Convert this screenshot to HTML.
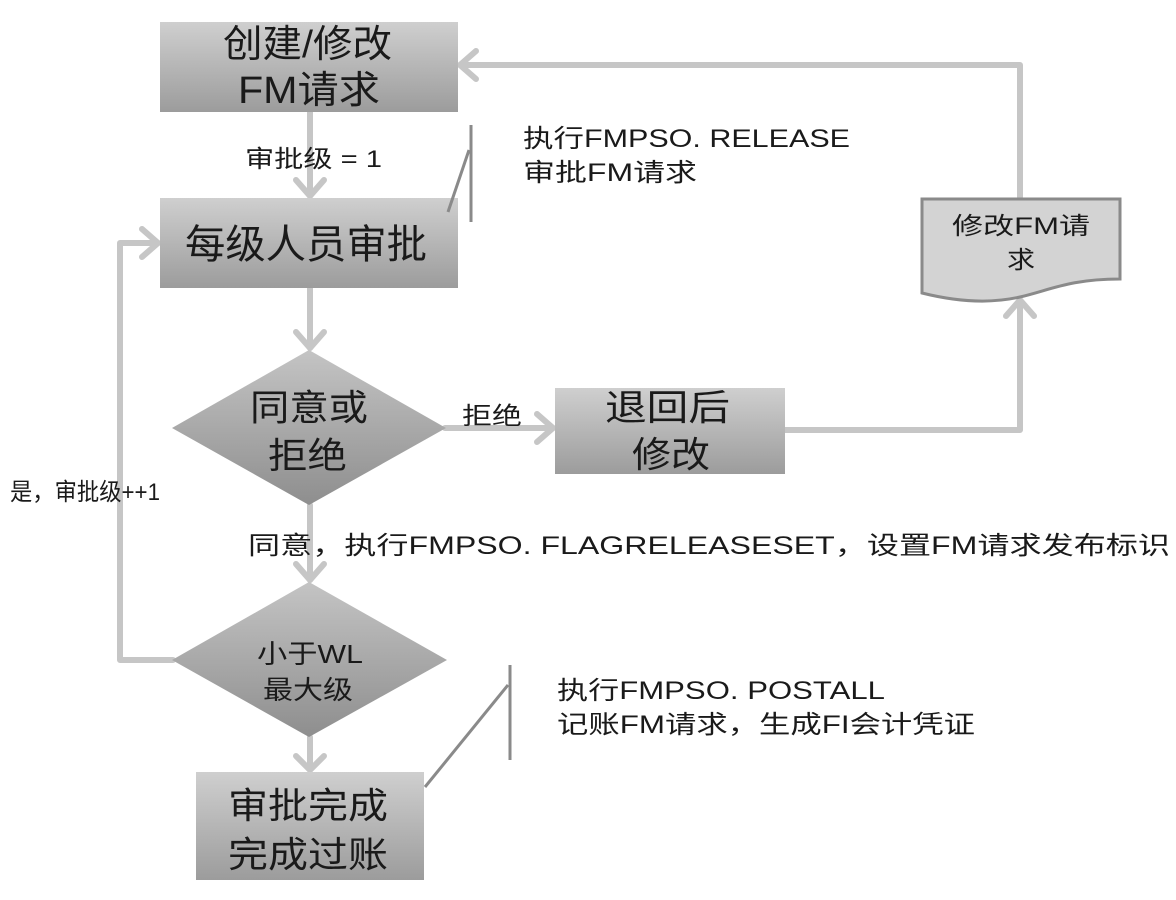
<!DOCTYPE html>
<html><head><meta charset="utf-8"><style>
html,body{margin:0;padding:0;background:#fff;}
svg{display:block;}
text{font-family:"Liberation Sans","Noto Sans CJK SC",sans-serif;fill:#1a1a1a;}
</style></head><body>
<svg width="1176" height="900" viewBox="0 0 1176 900" xmlns="http://www.w3.org/2000/svg">
<defs>
<linearGradient id="g" x1="0" y1="0" x2="0" y2="1">
<stop offset="0" stop-color="#cfcfcf"/><stop offset="1" stop-color="#9c9c9c"/>
</linearGradient>
<linearGradient id="gd" x1="0" y1="0" x2="0" y2="1">
<stop offset="0" stop-color="#c4c4c4"/><stop offset="1" stop-color="#8e8e8e"/>
</linearGradient>
</defs>
<g stroke="#c6c6c6" stroke-width="6" fill="none" stroke-linejoin="round" stroke-linecap="round">
<line x1="310" y1="112" x2="310" y2="196"/>
<polyline points="296,180 310,196 324,180"/>
<line x1="310" y1="288" x2="310" y2="348"/>
<polyline points="296,332 310,348 324,332"/>
<line x1="445" y1="428" x2="553" y2="428"/>
<polyline points="537,414 553,428 537,442"/>
<polyline points="785,430 1020,430 1020,300"/>
<polyline points="1006,316 1020,300 1034,316"/>
<polyline points="1020,197 1020,65 460,65"/>
<polyline points="476,51 460,65 476,79"/>
<line x1="310" y1="505" x2="310" y2="580"/>
<polyline points="296,564 310,580 324,564"/>
<polyline points="173,660 120,660 120,243 158,243"/>
<polyline points="142,229 158,243 142,257"/>
<line x1="310" y1="737" x2="310" y2="770"/>
<polyline points="296,756 310,770 324,756"/>
</g>
<rect x="160" y="22" width="298" height="90" fill="url(#g)"/>
<rect x="160" y="198" width="298" height="90" fill="url(#g)"/>
<rect x="555" y="388" width="230" height="86" fill="url(#g)"/>
<rect x="196" y="772" width="228" height="108" fill="url(#g)"/>
<polygon points="309,350 446,428 309,505 172,428" fill="url(#gd)"/>
<polygon points="309,582 447,660 309,737 172,660" fill="url(#gd)"/>
<path d="M922,199 L1120,199 L1120,279 C1070,279 1050,290 1020,297 C985,305 950,300 922,293 Z" fill="#d3d3d3" stroke="#8a8a8a" stroke-width="3"/>
<g stroke="#8a8a8a" stroke-width="3" fill="none">
<line x1="448" y1="212" x2="469" y2="150"/>
<line x1="471" y1="125" x2="471" y2="222"/>
<line x1="425" y1="787" x2="508" y2="685"/>
<line x1="510" y1="665" x2="510" y2="760"/>
</g>
<g lengthAdjust="spacingAndGlyphs">
<text x="223" y="57" font-size="38" textLength="169" lengthAdjust="spacingAndGlyphs">创建/修改</text>
<text x="238" y="103" font-size="38" textLength="142" lengthAdjust="spacingAndGlyphs">FM请求</text>
<text x="185" y="258" font-size="40" textLength="242" lengthAdjust="spacingAndGlyphs">每级人员审批</text>
<text x="605" y="420" font-size="36" textLength="125" lengthAdjust="spacingAndGlyphs">退回后</text>
<text x="632" y="467" font-size="36" textLength="78" lengthAdjust="spacingAndGlyphs">修改</text>
<text x="250" y="420" font-size="36" textLength="118" lengthAdjust="spacingAndGlyphs">同意或</text>
<text x="268" y="468" font-size="36" textLength="79" lengthAdjust="spacingAndGlyphs">拒绝</text>
<text x="257" y="663" font-size="26" textLength="106" lengthAdjust="spacingAndGlyphs">小于WL</text>
<text x="263" y="699" font-size="26" textLength="90" lengthAdjust="spacingAndGlyphs">最大级</text>
<text x="228" y="818" font-size="36" textLength="160" lengthAdjust="spacingAndGlyphs">审批完成</text>
<text x="228" y="867" font-size="36" textLength="160" lengthAdjust="spacingAndGlyphs">完成过账</text>
<text x="952" y="234" font-size="24" textLength="138" lengthAdjust="spacingAndGlyphs">修改FM请</text>
<text x="1007" y="268" font-size="24" textLength="28" lengthAdjust="spacingAndGlyphs">求</text>
<text x="245" y="167" font-size="24" textLength="137" lengthAdjust="spacingAndGlyphs">审批级 = 1</text>
<text x="523" y="147" font-size="25" textLength="327" lengthAdjust="spacingAndGlyphs">执行FMPSO. RELEASE</text>
<text x="523" y="181" font-size="25" textLength="174" lengthAdjust="spacingAndGlyphs">审批FM请求</text>
<text x="462" y="424" font-size="24" textLength="60" lengthAdjust="spacingAndGlyphs">拒绝</text>
<text x="10" y="500" font-size="24" textLength="150" lengthAdjust="spacingAndGlyphs">是，审批级++1</text>
<text x="248" y="554" font-size="25" textLength="922" lengthAdjust="spacingAndGlyphs">同意，执行FMPSO. FLAGRELEASESET，设置FM请求发布标识</text>
<text x="557" y="699" font-size="25" textLength="328" lengthAdjust="spacingAndGlyphs">执行FMPSO. POSTALL</text>
<text x="557" y="733" font-size="25" textLength="418" lengthAdjust="spacingAndGlyphs">记账FM请求，生成FI会计凭证</text>
</g>
</svg>
</body></html>
